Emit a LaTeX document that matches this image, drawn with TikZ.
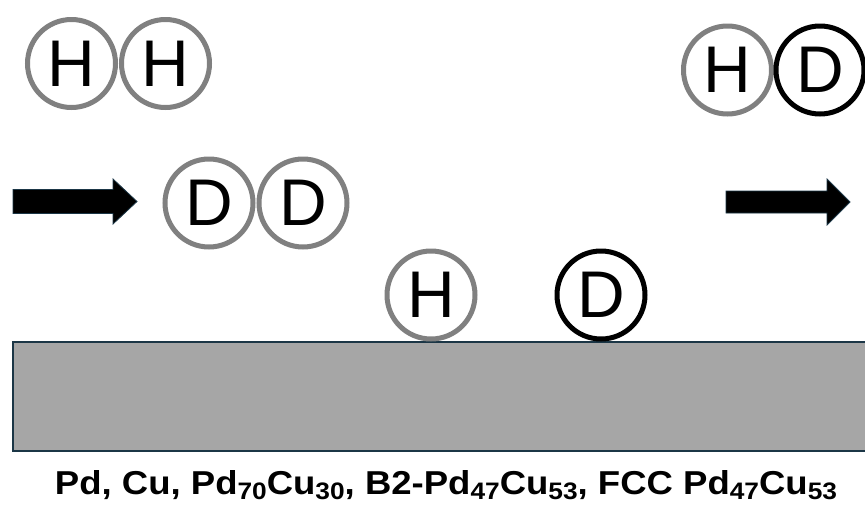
\documentclass[tikz,border=0pt]{standalone}
\usepackage{fontspec}
\setmainfont{Liberation Sans}
\usetikzlibrary{positioning}
\definecolor{atomgrey}{HTML}{808080}
\definecolor{slabfill}{HTML}{A6A6A6}
\definecolor{slabedge}{HTML}{1B3646}
\newcommand{\mysub}[1]{\raisebox{-0.18em}{\fontsize{0.72em}{0.72em}\selectfont #1}}
\tikzset{
  atom/.style={circle, draw, line width=5pt, minimum size=88pt, inner sep=0pt,
    font=\fontsize{66}{66}\selectfont, fill=white},
  atomh/.style={atom, draw=atomgrey},
  atomd/.style={atom, draw=black},
  bigarrow/.style={fill=black, draw=slabedge, line width=0.8pt, line join=miter},
  slab/.style={fill=slabfill, draw=slabedge, line width=2pt},
  caption/.style={font=\bfseries\fontsize{32}{32}\selectfont, inner sep=0pt, anchor=base}
}
\begin{document}
\begin{tikzpicture}[x=1pt,y=-1pt]
\useasboundingbox (0,0) rectangle (865,504);
% slab
\draw[slab] (13,342) rectangle (870,451);
% molecules
\node[atomh] (h1) at (71.5,63.5) {H};
\node[atomh] (h2) at (165.5,63.5) {H};
\node[atomh] (d1) at (209,203) {D};
\node[atomh] (d2) at (303,203) {D};
\node[atomh] (h3) at (727.5,70) {H};
\node[atomd] (d3) at (820,70) {D};
\node[atomh] (hs) at (431,295) {H};
\node[atomd] (ds) at (601,295) {D};
% arrows
\coordinate (a1) at (137,201.5);
\coordinate (a2) at (850,202);
\filldraw[bigarrow] (13,189.5) -- (113,189.5) -- (113,179) -- (a1) -- (113,224) -- (113,213.5) -- (13,213.5) -- cycle;
\filldraw[bigarrow] (726,191) -- (827,191) -- (827,179) -- (a2) -- (827,225) -- (827,213) -- (726,213) -- cycle;
% caption
\node[caption] (cap) at (446,494) {\resizebox{782pt}{24pt}{Pd, Cu, Pd\mysub{70}Cu\mysub{30}, B2-Pd\mysub{47}Cu\mysub{53}, FCC Pd\mysub{47}Cu\mysub{53}}};
\end{tikzpicture}
\end{document}
